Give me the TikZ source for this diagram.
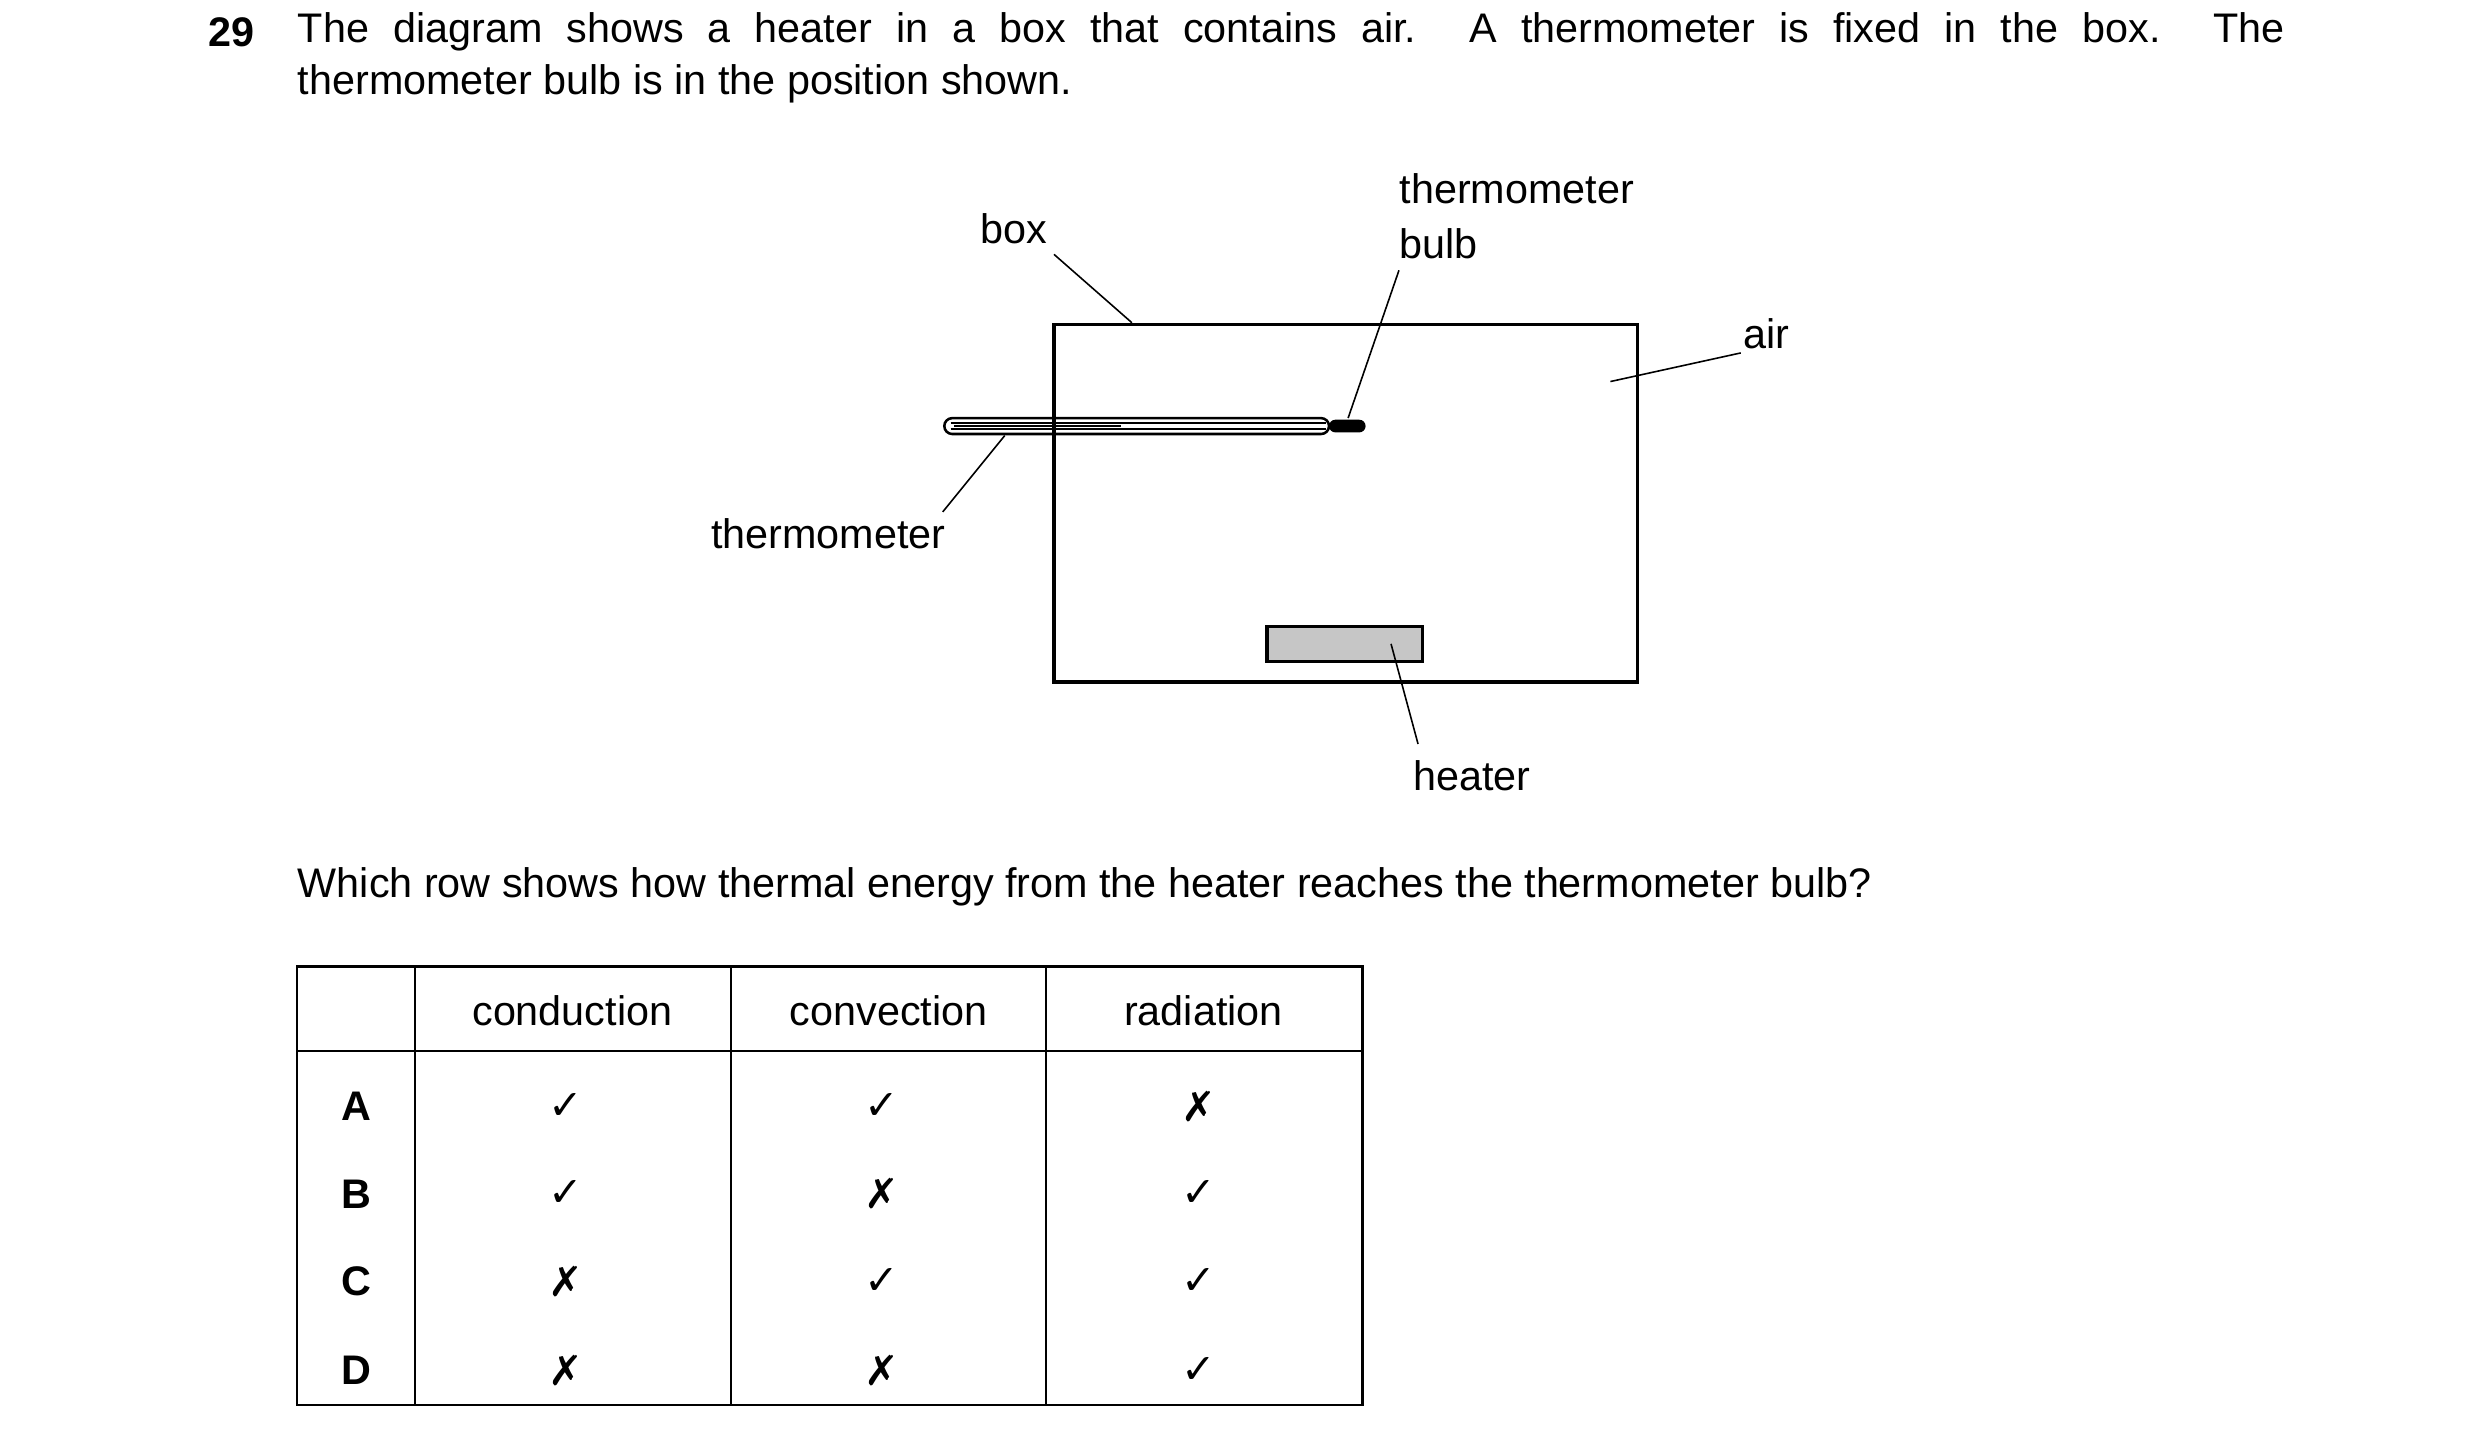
\documentclass[tikz,border=0pt]{standalone}
\usepackage{fontspec}
\setmainfont{Liberation Sans}
\newfontfamily\symfont{DejaVu Sans}
\newcommand{\yes}{{\symfont ✓}}
\newcommand{\no}{{\symfont ✗}}
\begin{document}
\begin{tikzpicture}[x=0.5pt,y=-0.5pt,font=\fontsize{13}{15}\selectfont,
  lbl/.style={inner sep=0pt},
  lead/.style={line width=0.5pt},
  grid/.style={line width=0.7pt}]
\useasboundingbox[fill=white] (0,0) rectangle (1560,906);
% question
\node[lbl,anchor=west,font=\fontsize{13}{15}\selectfont\bfseries] (num) at (131,20) {29};
\node[lbl,anchor=west] (q1) at (187,20) {\makebox[625pt][s]{The diagram shows a heater in a box that contains air. A thermometer is fixed in the box. The}};
\node[lbl,anchor=west] (q2) at (187,53) {thermometer bulb is in the position shown.};
% box and heater
\draw[line width=1pt] (663,204) rectangle (1030,429);
\node[draw,line width=1pt,fill=gray!45,minimum width=49pt,minimum height=11pt,inner sep=0pt] (heat) at (846,405) {};
% thermometer
\draw[line width=0.8pt,rounded corners=2.5pt] (594,263) rectangle (836,273);
\draw[line width=0.6pt] (600,268) -- (705,268);
\draw[line width=0.6pt] (598,266) -- (834,266) (598,270) -- (834,270);
\fill[black,rounded corners=2pt] (836,264) rectangle (859,272);
% labels
\node[lbl] (box) at (638,144) {box};
\node[lbl,anchor=west,align=left] (bulb) at (880,136) {thermometer\\[2pt]bulb};
\node[lbl] (air) at (1111,210) {air};
\node[lbl] (therm) at (521,336) {thermometer};
\node[lbl] (heater) at (926,488) {heater};
\coordinate (boxp) at (712,203);
\coordinate (bulbp) at (848,263);
\coordinate (airp) at (1013,240);
\coordinate (thermp) at (632,274);
\coordinate (heatp) at (875,405);
\draw[lead] (663,160) -- (boxp);
\draw[lead] (880,170) -- (bulbp);
\draw[lead] (1095,222) -- (airp);
\draw[lead] (593,322) -- (thermp);
\draw[lead] (892,468) -- (heatp);
% table
\node[lbl,anchor=west] (ask) at (187,558) {Which row shows how thermal energy from the heater reaches the thermometer bulb?};
\draw[grid] (187,608) rectangle (857,884);
\draw[grid] (187,661) -- (857,661);
\foreach \x in {261,460,658} \draw[grid] (\x,608) -- (\x,884);
\node[lbl] (h1) at (360,636) {conduction};
\node[lbl] (h2) at (559,636) {convection};
\node[lbl] (h3) at (757,636) {radiation};
\foreach \r/\y/\a/\b/\c in {A/696/\yes/\yes/\no, B/751/\yes/\no/\yes, C/806/\no/\yes/\yes, D/862/\no/\no/\yes} {
  \node[lbl,font=\fontsize{13}{15}\selectfont\bfseries] (row\r) at (224,\y) {\r};
  \node[lbl] (c1\r) at (356,\y) {\a};
  \node[lbl] (c2\r) at (555,\y) {\b};
  \node[lbl] (c3\r) at (754,\y) {\c};
}
\end{tikzpicture}
\end{document}
